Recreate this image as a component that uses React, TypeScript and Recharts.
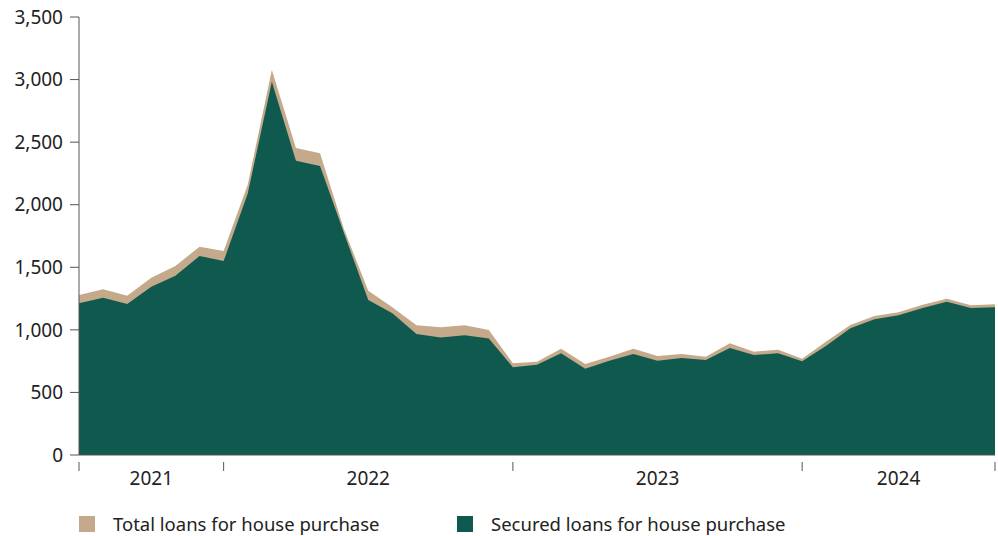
import React from "react";
import {
  AreaChart,
  Area,
  XAxis,
  YAxis,
  Legend,
} from "recharts";

// monthly observations, Jul 2021 - Sep 2024
const months = [
  "2021-07", "2021-08", "2021-09", "2021-10", "2021-11", "2021-12",
  "2022-01", "2022-02", "2022-03", "2022-04", "2022-05", "2022-06",
  "2022-07", "2022-08", "2022-09", "2022-10", "2022-11", "2022-12",
  "2023-01", "2023-02", "2023-03", "2023-04", "2023-05", "2023-06",
  "2023-07", "2023-08", "2023-09", "2023-10", "2023-11", "2023-12",
  "2024-01", "2024-02", "2024-03", "2024-04", "2024-05", "2024-06",
  "2024-07", "2024-08", "2024-09",
];

const totalLoans = [
  1279, 1324, 1273, 1417, 1510, 1665, 1630, 2160, 3077, 2453,
  2411, 1800, 1313, 1180, 1036, 1020, 1036, 999, 733, 746,
  850, 727, 786, 850, 791, 807, 786, 893, 826, 842,
  770, 906, 1039, 1111, 1140, 1201, 1249, 1196, 1204,
];

const securedLoans = [
  1212, 1257, 1207, 1345, 1433, 1590, 1550, 2090, 2983, 2352,
  2310, 1770, 1239, 1132, 967, 938, 957, 930, 701, 722,
  813, 690, 754, 807, 754, 775, 759, 855, 799, 813,
  749, 874, 1013, 1084, 1116, 1175, 1225, 1175, 1180,
];

const yearLabels = ["2021", "2022", "2023", "2024"];
const yearMid = [3, 12, 24, 34];
const yearEdges = [0, 6, 18, 30, 38];
const yTicks = [0, 500, 1000, 1500, 2000, 2500, 3000, 3500];

const TAN = "#C4A98A";
const GREEN = "#10594E";
const TEXT = "#222222";
const AXIS = "#555555";
const FONT = "'Noto Sans', sans-serif";

const data = months.map((m, i) => ({
  i,
  month: m,
  total: totalLoans[i],
  secured: securedLoans[i],
}));

const XTick = (props: any) => {
  const { x, y, payload } = props;
  const v = payload.value;
  const mid = yearMid.indexOf(v);
  if (mid >= 0) {
    return (
      <text x={x} y={y + 22} textAnchor="middle" fontSize={19} fill={TEXT} fontFamily={FONT}>
        {yearLabels[mid]}
      </text>
    );
  }
  return <line x1={x} x2={x} y1={y - 1} y2={y + 8} stroke={AXIS} strokeWidth={1} />;
};

const LegendBox = () => (
  <div style={{ height: 41, width: 998, position: "relative", fontFamily: FONT, fontSize: 18.5, color: TEXT }}>
    {[
      { label: "Total loans for house purchase", color: TAN, left: 79 },
      { label: "Secured loans for house purchase", color: GREEN, left: 457 },
    ].map((it) => (
      <div
        key={it.label}
        style={{ position: "absolute", left: it.left, top: 21, height: 16, lineHeight: "16px", display: "flex", alignItems: "center", whiteSpace: "nowrap" }}
      >
        <span style={{ width: 16, height: 16, background: it.color, display: "inline-block", marginRight: 18 }} />
        <span>{it.label}</span>
      </div>
    ))}
  </div>
);

export default function App() {
  return (
    <div style={{ width: 998, height: 536, overflow: "hidden" }}>
      <style>{`html,body{margin:0;padding:0;overflow:hidden}`}</style>
      <AreaChart
        width={998}
        height={536}
        data={data}
        margin={{ top: 17, right: 3, left: 8, bottom: 0 }}
      >
        <XAxis
          dataKey="i"
          type="number"
          domain={[0, 38]}
          ticks={[...yearEdges, ...yearMid].sort((a, b) => a - b)}
          interval={0}
          tick={<XTick />}
          tickLine={false}
          axisLine={{ stroke: AXIS }}
          height={40}
        />
        <YAxis
          domain={[0, 3500]}
          ticks={yTicks}
          interval={0}
          width={71}
          tickSize={9}
          tickMargin={7}
          tickLine={{ stroke: AXIS }}
          axisLine={{ stroke: AXIS }}
          tickFormatter={(v: number) => v.toLocaleString("en-US")}
          tick={{ fontSize: 19, fill: TEXT, fontFamily: FONT }}
        />
        <Legend
          verticalAlign="bottom"
          content={<LegendBox />}
          wrapperStyle={{ top: 495, left: 0, bottom: "auto", width: 998, height: 41 }}
        />
        <Area
          type="linear"
          dataKey="total"
          name="Total loans for house purchase"
          fill={TAN}
          fillOpacity={1}
          stroke="none"
          isAnimationActive={false}
        />
        <Area
          type="linear"
          dataKey="secured"
          name="Secured loans for house purchase"
          fill={GREEN}
          fillOpacity={1}
          stroke="none"
          isAnimationActive={false}
        />
      </AreaChart>
    </div>
  );
}
